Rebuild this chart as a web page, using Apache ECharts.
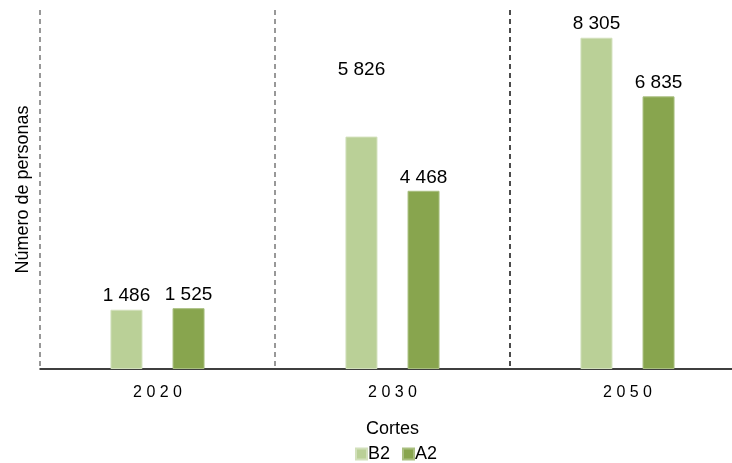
<!DOCTYPE html>
<html><head><meta charset="utf-8">
<script src="https://cdn.jsdelivr.net/npm/echarts@6/dist/echarts.min.js"></script>
<style>html,body{margin:0;padding:0;background:#fff}#c{width:732px;height:463px}</style>
</head><body><div id="c"></div>
<script>
const categories = ['2020', '2030', '2050'];
const seriesNames = ['B2', 'A2'];
const b2Values = [1486, 5826, 8305];
const a2Values = [1525, 4468, 6835];
const yAxisName = 'Número de personas';
const xAxisName = 'Cortes';

const fmt = v => String(v).replace(/\B(?=(\d{3})+(?!\d))/g, ' ');
const font = '"Liberation Sans", Arial, sans-serif';
const labelBase = {show: true, position: 'top', distance: 4, color: '#000', fontSize: 19, fontFamily: font,
  formatter: p => fmt(p.value)};

const chart = echarts.init(document.getElementById('c'));
chart.setOption({
  animation: false,
  grid: {left: 40, right: -13, top: 10, bottom: 94, containLabel: false, outerBoundsMode: 'none'},
  legend: {data: seriesNames, top: 440, left: 350, itemWidth: 11, itemHeight: 11, itemGap: 12,
    icon: 'rect', textStyle: {fontSize: 18, color: '#000', fontFamily: font, padding: [0, 0, 0, -4]}},
  xAxis: {type: 'category', data: categories, name: xAxisName, nameLocation: 'middle', nameGap: 51,
    nameTextStyle: {fontSize: 18, color: '#000', fontFamily: font},
    axisLine: {lineStyle: {color: '#000', width: 1.5}}, axisTick: {show: false},
    axisLabel: {margin: 16, fontSize: 16, color: '#000', fontFamily: font,
      formatter: v => v.split('').join(' ')},
    splitLine: {show: true, lineStyle: {color: ['#777', '#777', '#111'], type: [5, 4], width: 1.5}}},
  yAxis: {type: 'value', min: 0, max: 9000, name: yAxisName, nameLocation: 'middle', nameGap: 8,
    nameTextStyle: {fontSize: 18, color: '#000', fontFamily: font},
    axisLine: {show: false}, axisTick: {show: false}, axisLabel: {show: false}, splitLine: {show: false}},
  series: [
    {name: seriesNames[0], type: 'bar', barWidth: 32, barGap: '94%',
     itemStyle: {color: '#bad097', borderColor: '#d2e0bb', borderWidth: 1},
     label: labelBase,
     data: b2Values.map((v, i) => i === 1 ? {value: v, label: {offset: [0, -53]}} : v)},
    {name: seriesNames[1], type: 'bar', barWidth: 32,
     itemStyle: {color: '#88a54e', borderColor: '#a9bf80', borderWidth: 1},
     label: labelBase,
     data: a2Values}
  ]
});
</script></body></html>
